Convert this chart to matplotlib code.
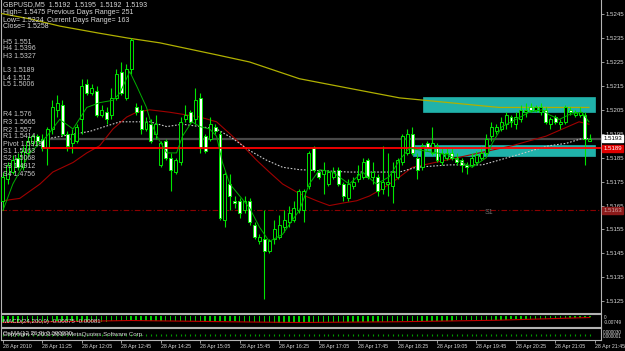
import matplotlib
matplotlib.use("Agg")
import matplotlib.pyplot as plt
from matplotlib.patches import Rectangle
import matplotlib.transforms as mtransforms

W, H = 625, 351

# M5 candles, 28 Apr 2010 (price values)
opens = [1.5167, 1.5176, 1.5179, 1.5185, 1.5181, 1.5187, 1.5191, 1.5194, 1.5193, 1.5189,
         1.5197, 1.5205, 1.5207, 1.5195, 1.5191, 1.5192, 1.5201, 1.5216, 1.5212, 1.5213,
         1.5203, 1.5204, 1.5203, 1.5210, 1.5221, 1.5210, 1.5222, 1.5206, 1.5205, 1.5197,
         1.5199, 1.5195, 1.5182, 1.5192, 1.5185, 1.5179, 1.5183, 1.5201, 1.5204, 1.5201,
         1.5210, 1.5194, 1.5193, 1.5198, 1.5195, 1.5159, 1.5174, 1.5167, 1.5167, 1.5163,
         1.5167, 1.5157, 1.5150, 1.5151, 1.5146, 1.5151, 1.5152, 1.5156, 1.5158, 1.5159,
         1.5163, 1.5163, 1.5173, 1.5189, 1.5179, 1.5178, 1.5174, 1.5177, 1.5180, 1.5174,
         1.5168, 1.5173, 1.5176, 1.5177, 1.5184, 1.5177, 1.5177, 1.5172, 1.5174, 1.5173,
         1.5177, 1.5183, 1.5187, 1.5195, 1.5185, 1.5181, 1.5191, 1.5187, 1.5190, 1.5183,
         1.5185, 1.5187, 1.5185, 1.5184, 1.5182, 1.5182, 1.5183, 1.5185, 1.5187, 1.5194,
         1.5196, 1.5197, 1.5199, 1.5202, 1.5199, 1.5201, 1.5204, 1.5206, 1.5205, 1.5204,
         1.5205, 1.5199, 1.5202, 1.5199, 1.5200, 1.5205, 1.5203, 1.5203, 1.5203, 1.5192]
highs = [1.5179, 1.5183, 1.5186, 1.5187, 1.5190, 1.5194, 1.5195, 1.5195, 1.5195, 1.5198,
         1.5209, 1.5211, 1.5209, 1.5196, 1.5197, 1.5199, 1.5218, 1.5218, 1.5216, 1.5215,
         1.5207, 1.5206, 1.5214, 1.5222, 1.5225, 1.5224, 1.5235, 1.5208, 1.5207, 1.5202,
         1.5201, 1.5203, 1.5192, 1.5193, 1.5187, 1.5185, 1.5202, 1.5207, 1.5205, 1.5214,
         1.5212, 1.5195, 1.5202, 1.5199, 1.5196, 1.5179, 1.5178, 1.5169, 1.5168, 1.5169,
         1.5168, 1.5158, 1.5153, 1.5163, 1.5151, 1.5159, 1.5161, 1.5163, 1.5165, 1.5167,
         1.5172, 1.5172, 1.5188, 1.5190, 1.5180, 1.5183, 1.5180, 1.5181, 1.5181, 1.5175,
         1.5176, 1.5177, 1.5182, 1.5185, 1.5185, 1.5183, 1.5178, 1.5190, 1.5187, 1.5183,
         1.5185, 1.5195, 1.5197, 1.5198, 1.5187, 1.5191, 1.5192, 1.5198, 1.5191, 1.5189,
         1.5189, 1.5189, 1.5187, 1.5185, 1.5183, 1.5187, 1.5188, 1.5190, 1.5195, 1.5200,
         1.5199, 1.5202, 1.5204, 1.5203, 1.5204, 1.5207, 1.5208, 1.5208, 1.5207, 1.5208,
         1.5206, 1.5202, 1.5203, 1.5201, 1.5207, 1.5206, 1.5205, 1.5206, 1.5204, 1.5195]
lows = [1.5163, 1.5174, 1.5178, 1.5180, 1.5180, 1.5186, 1.5190, 1.5190, 1.5188, 1.5182,
        1.5195, 1.5202, 1.5194, 1.5188, 1.5187, 1.5191, 1.5195, 1.5211, 1.5211, 1.5202,
        1.5202, 1.5199, 1.5201, 1.5209, 1.5211, 1.5209, 1.5220, 1.5203, 1.5195, 1.5196,
        1.5191, 1.5193, 1.5181, 1.5184, 1.5171, 1.5178, 1.5182, 1.5200, 1.5199, 1.5199,
        1.5187, 1.5187, 1.5192, 1.5195, 1.5159, 1.5156, 1.5163, 1.5164, 1.5160, 1.5162,
        1.5157, 1.5151, 1.5149, 1.5126, 1.5145, 1.5149, 1.5151, 1.5154, 1.5156, 1.5158,
        1.5162, 1.5158, 1.5172, 1.5179, 1.5176, 1.5170, 1.5173, 1.5176, 1.5173, 1.5167,
        1.5167, 1.5172, 1.5175, 1.5176, 1.5176, 1.5174, 1.5169, 1.5170, 1.5169, 1.5166,
        1.5176, 1.5182, 1.5186, 1.5186, 1.5176, 1.5180, 1.5188, 1.5186, 1.5183, 1.5182,
        1.5184, 1.5184, 1.5182, 1.5179, 1.5178, 1.5181, 1.5182, 1.5184, 1.5186, 1.5192,
        1.5195, 1.5196, 1.5197, 1.5198, 1.5197, 1.5200, 1.5202, 1.5204, 1.5204, 1.5203,
        1.5199, 1.5197, 1.5199, 1.5197, 1.5199, 1.5203, 1.5202, 1.5202, 1.5182, 1.5192]
closes = [1.5177, 1.5182, 1.5184, 1.5181, 1.5188, 1.5192, 1.5194, 1.5192, 1.5189, 1.5197,
          1.5206, 1.5208, 1.5195, 1.5190, 1.5195, 1.5198, 1.5215, 1.5212, 1.5214, 1.5203,
          1.5205, 1.5201, 1.5210, 1.5220, 1.5212, 1.5222, 1.5234, 1.5204, 1.5197, 1.5200,
          1.5192, 1.5199, 1.5191, 1.5185, 1.5180, 1.5184, 1.5200, 1.5203, 1.5200, 1.5209,
          1.5189, 1.5188, 1.5199, 1.5196, 1.5160, 1.5178, 1.5169, 1.5166, 1.5162, 1.5167,
          1.5158, 1.5152, 1.5152, 1.5146, 1.5150, 1.5155, 1.5157, 1.5159, 1.5162, 1.5164,
          1.5171, 1.5171, 1.5187, 1.5180, 1.5177, 1.5180, 1.5179, 1.5179, 1.5174, 1.5169,
          1.5174, 1.5175, 1.5178, 1.5183, 1.5177, 1.5179, 1.5171, 1.5175, 1.5175, 1.5179,
          1.5184, 1.5194, 1.5195, 1.5187, 1.5180, 1.5190, 1.5189, 1.5191, 1.5184, 1.5187,
          1.5187, 1.5185, 1.5183, 1.5182, 1.5181, 1.5185, 1.5186, 1.5187, 1.5193, 1.5198,
          1.5198, 1.5200, 1.5203, 1.5200, 1.5202, 1.5205, 1.5205, 1.5205, 1.5206, 1.5206,
          1.5200, 1.5201, 1.5200, 1.5200, 1.5206, 1.5204, 1.5204, 1.5204, 1.5193, 1.5193]

# moving averages (bar position, price)
ma_fast_x = [0, 2, 5.5, 8.9, 11.5, 14.2, 17, 19.6, 22.3, 23.7, 25.7, 27.1, 29.1, 29.8, 31.2,
             33.2, 35.2, 36.4, 38.3, 39.9, 41.9, 43.3, 44.5, 46, 48, 50, 52, 54, 56.7, 58.7,
             60.1, 62.1, 64.2, 66.8, 70.2, 72.9, 75.7, 78.3, 80.4, 82.4, 85, 87.9, 90.5, 93.1,
             95.1, 98, 99.2, 101.2, 104, 106.7, 109.3, 110.7, 112.8, 114.8, 117.4, 118.8]
ma_fast_y = [1.5163, 1.5174, 1.5187, 1.5194, 1.5201, 1.5197, 1.5206, 1.5208, 1.5209, 1.5212,
             1.5221, 1.5215, 1.5206, 1.5201, 1.5194, 1.5187, 1.5187, 1.5194, 1.5200, 1.5198,
             1.5197, 1.5194, 1.5183, 1.5174, 1.5169, 1.5164, 1.5156, 1.5150, 1.5153, 1.5159,
             1.5163, 1.5174, 1.5180, 1.5179, 1.5174, 1.5179, 1.5174, 1.5177, 1.5184, 1.5189,
             1.5188, 1.5187, 1.5186, 1.5183, 1.5181, 1.5185, 1.5191, 1.5198, 1.5201, 1.5204,
             1.5205, 1.5203, 1.5201, 1.5203, 1.5204, 1.5200]
ma_mid_x = [0, 3.4, 7.5, 10.1, 14.2, 17, 19.6, 22.3, 25.1, 27.1, 29.8, 33.8, 39.9, 43.3, 46,
            48.6, 51.4, 54, 56.7, 60.1, 63.6, 66.2, 68.8, 71.7, 74.3, 76.9, 79.8, 83, 89.9,
            96.6, 103.2, 110.1, 116.8, 118.8]
ma_mid_y = [1.5167, 1.5168, 1.5174, 1.5179, 1.5183, 1.5187, 1.5190, 1.5197, 1.5202, 1.5204,
            1.5205, 1.5204, 1.5202, 1.5200, 1.5195, 1.5190, 1.5184, 1.5179, 1.5174, 1.5170,
            1.5167, 1.5165, 1.5166, 1.5167, 1.5169, 1.5172, 1.5176, 1.5181, 1.5184, 1.5187,
            1.5190, 1.5194, 1.5200, 1.5199]
ma_dot_x = [9.1, 17.6, 23.7, 29.8, 33.2, 36.4, 39.9, 43.3, 46.6, 50, 53.4, 56.7, 60.1, 70.2,
            76.9, 80.4, 83.8, 90.5, 97.2, 100.6, 104, 107.3, 110.7, 114.2, 117.4, 118.8]
ma_dot_y = [1.5193, 1.5196, 1.5200, 1.5200, 1.5198, 1.5199, 1.5198, 1.5197, 1.5193, 1.5188,
            1.5184, 1.5181, 1.5180, 1.5179, 1.5179, 1.5179, 1.5181, 1.5182, 1.5182, 1.5184,
            1.5186, 1.5188, 1.5190, 1.5191, 1.5193, 1.5193]
ma_slow_x = [-1, 5.5, 11.5, 19.6, 25.3, 31.8, 36.4, 43.3, 50, 60.1, 70.2, 80.4, 90.5, 100.6,
             110.7, 118.8]
ma_slow_y = [1.52455, 1.5243, 1.5240, 1.5237, 1.5235, 1.5233, 1.5231, 1.5228, 1.5225, 1.5218,
             1.5214, 1.5210, 1.5208, 1.5206, 1.5206, 1.5206]

# horizontal levels
bid = 1.5193
l3_level = 1.5189
s1_level = 1.5163

# zones: (start bar, end bar, low, high)
zones = [(85.2, 120.1, 1.52041, 1.52104), (83.2, 120.1, 1.51857, 1.51903)]

# MACD(24,200,9) main histogram and signal, in units of 0.0001
macd = [-28, -28, -28, -28, -28, -28, -28, -28, -28, -27,
        -27, -27, -27, -27, -27, -26, -26, -26, -25, -25,
        -24, -24, -23, -22, -21, -20, -20, -20, -20, -20,
        -20, -20, -20, -20, -20, -20, -20, -20, -20, -20,
        -20, -20, -21, -21, -22, -22, -23, -23, -24, -24,
        -25, -26, -26, -27, -27, -28, -28, -28, -28, -28,
        -28, -28, -28, -28, -27, -27, -27, -27, -26, -26,
        -26, -26, -26, -25, -25, -25, -25, -24, -24, -24,
        -24, -23, -23, -22, -22, -22, -21, -21, -21, -20,
        -20, -20, -19, -19, -19, -18, -18, -18, -17, -17,
        -17, -16, -16, -15, -15, -14, -14, -13, -13, -12,
        -12, -11, -11, -10, -10, -9, -9, -8, -8, -7.5]
signal_x = [0, 26, 50, 60, 80, 100, 119]
signal_y = [-28, -20, -26, -28, -25, -19, -8.1]

price_ticks = [1.5245, 1.5235, 1.5225, 1.5215, 1.5205, 1.5195, 1.5185, 1.5175, 1.5165,
               1.5155, 1.5145, 1.5135, 1.5125]
time_labels = ["28 Apr 2010", "28 Apr 11:25", "28 Apr 12:05", "28 Apr 12:45", "28 Apr 14:25",
               "28 Apr 15:05", "28 Apr 15:45", "28 Apr 16:25", "28 Apr 17:05", "28 Apr 17:45",
               "28 Apr 18:25", "28 Apr 19:05", "28 Apr 19:45", "28 Apr 20:25", "28 Apr 21:05",
               "28 Apr 21:45"]

pivot_labels = [("H5 1.551", 42), ("H4 1.5396", 49), ("H3 1.5327", 56),
                ("L3 1.5189", 71), ("L4 1.512", 78), ("L5 1.5006", 85),
                ("R4 1.576", 115), ("R3 1.5665", 122), ("R2 1.557", 130),
                ("R1 1.5414", 137), ("Pivot 1.5319", 144), ("S1 1.5163", 152),
                ("S2 1.5068", 159), ("S3 1.4912", 167), ("S4 1.4756", 174)]

BG = "#000000"
CANDLE = "#00E600"
FRAME = "#B4B4B4"
TXT = "#D8D8D8"
FONT = "Liberation Sans"
FS = 5.0
FS_AX = 4.4
FS_SMALL = 3.8
FS_TINY = 3.3

fig = plt.figure(figsize=(W / 100, H / 100), dpi=100, facecolor=BG)


def px_axes(top, bottom, left=1, right=601):
    return fig.add_axes([left / W, 1 - bottom / H, (right - left) / W, (bottom - top) / H],
                        facecolor=BG)


def frame(a):
    for sp in a.spines.values():
        sp.set_color(FRAME)
        sp.set_linewidth(0.8)


ax = px_axes(0, 313)
ax_macd = px_axes(314, 327)
ax_osma = px_axes(328, 340)

xmin, xmax = -0.4, 121.25
y_top, y_bot = 1.52509, 1.51201

# candles
n = len(closes)
for i in range(n):
    o, h, l, c = opens[i], highs[i], lows[i], closes[i]
    ax.vlines(i, l, h, color=CANDLE, lw=0.8, zorder=4)
    lo_b, hi_b = min(o, c), max(o, c)
    face = BG if c >= o else "white"
    ax.add_patch(Rectangle((i - 0.3, lo_b), 0.6, max(hi_b - lo_b, 0.00003),
                           facecolor=face, edgecolor=CANDLE, lw=0.7, zorder=5))

# zones
for x0, x1, lo, hi in zones:
    ax.add_patch(Rectangle((x0, lo), x1 - x0, hi - lo, facecolor="#20B2AA",
                           edgecolor="#20B2AA", lw=0.5, zorder=2))

# levels
ax.hlines(bid, 9, xmax, color="#484848", lw=1.6, zorder=1)
ax.hlines(l3_level, 8, xmax, color="#FF0000", lw=1.3, zorder=6)
ax.hlines(s1_level, xmin, xmax, color="#8B0000", lw=0.8, linestyles=(0, (5, 2, 1, 2)), zorder=1)
ax.text(98.5, s1_level - 0.00009, "S1", color="#707070", fontsize=FS, family=FONT,
        va="center", ha="center")

# moving averages
ax.plot(ma_slow_x, ma_slow_y, color="#B0B000", lw=0.9, zorder=3)
ax.plot(ma_mid_x, ma_mid_y, color="#A00000", lw=0.8, zorder=3)
ax.plot(ma_dot_x, ma_dot_y, color="#C8C8C8", lw=0.8, ls=(0, (1.5, 1.5)), zorder=3)
ax.plot(ma_fast_x, ma_fast_y, color="#00B000", lw=0.7, zorder=6)

ax.set_xlim(xmin, xmax)
ax.set_ylim(y_bot, y_top)
ax.yaxis.tick_right()
ax.set_yticks(price_ticks)
ax.set_yticklabels([f"{p:.4f}" for p in price_ticks])
ax.tick_params(axis="y", colors=FRAME, labelcolor=TXT, labelsize=FS_AX, length=2, width=0.6,
               pad=1.5, direction="out")
for lab in ax.get_yticklabels():
    lab.set_family(FONT)
ax.set_xticks([])
frame(ax)
ax.spines["top"].set_visible(False)

# price boxes on the right scale
blend = mtransforms.blended_transform_factory(ax.transAxes, ax.transData)
for val, fc, tc in [(bid, "white", "black"), (l3_level, "#E00000", "white"),
                    (s1_level, "#8B1A1A", "#D0A0A0")]:
    ax.text(1.004, val, f"{val:.4f}", transform=blend, fontsize=FS_AX, family=FONT, color=tc,
            va="center", ha="left", zorder=10, clip_on=False,
            bbox=dict(boxstyle="square,pad=0.15", fc=fc, ec=fc))


# header / pivot text
def ptext(x, y, s, color=TXT, size=FS):
    fig.text(x / W, 1 - y / H, s, color=color, fontsize=size, family=FONT,
             va="center", ha="left")


ptext(3, 5, "GBPUSD,M5  1.5192  1.5195  1.5192  1.5193")
ptext(3, 12, "High= 1.5475")
ptext(47, 12, "Previous Days Range= 251")
ptext(3, 20, "Low= 1.5224")
ptext(47, 20, "Current Days Range= 163")
ptext(3, 27, "Close= 1.5258")
for s, y in pivot_labels:
    ptext(3, y, s, color="#C8C8C8")

# MACD panel
ax_macd.bar(range(n), [v / 10000 for v in macd], width=0.3, color="#00D000", zorder=2)
ax_macd.plot(signal_x, [v / 10000 for v in signal_y], color="#C00000", lw=0.8, zorder=3)
ax_macd.set_xlim(xmin, xmax)
ax_macd.set_ylim(-0.0046, 0.0006)
ax_macd.set_xticks([])
ax_macd.set_yticks([])
frame(ax_macd)
ax_macd.text(0.004, 0.45, "MACD(24,200,9) -0.00075 -0.00081", transform=ax_macd.transAxes,
             color=TXT, fontsize=FS_AX, family=FONT, va="center", ha="left", zorder=5)
ax_macd.text(1.005, 0.72, "0", transform=ax_macd.transAxes, color=TXT,
             fontsize=FS_TINY, family=FONT, va="center", ha="left", clip_on=False)
ax_macd.text(1.005, 0.35, "-0.00749", transform=ax_macd.transAxes, color=TXT,
             fontsize=FS_TINY, family=FONT, va="center", ha="left", clip_on=False)

# OsMA panel
ax_osma.set_xlim(xmin, xmax)
ax_osma.set_ylim(-1, 1)
ax_osma.vlines(range(n), -0.25, 0.05, color="#00A000", lw=0.8)
ax_osma.set_yticks([])
frame(ax_osma)
for s in ["OsMA(12,26,9) 0.000030", "Copyright \u00a9 2001-2010 MetaQuotes Software Corp."]:
    ax_osma.text(0.004, 0.5, s, transform=ax_osma.transAxes, color=TXT, fontsize=FS_AX,
                 family=FONT, va="center", ha="left", zorder=5)
ax_osma.text(1.003, 0.62, "0.000030", transform=ax_osma.transAxes, color=TXT,
             fontsize=FS_TINY, family=FONT, va="center", ha="left", clip_on=False)
ax_osma.text(1.003, 0.3, "0.000001", transform=ax_osma.transAxes, color=TXT,
             fontsize=FS_TINY, family=FONT, va="center", ha="left", clip_on=False)
ax_osma.set_xticks([i * 8 for i in range(len(time_labels))])
ax_osma.set_xticklabels(time_labels)
ax_osma.tick_params(axis="x", colors=FRAME, labelcolor=TXT, labelsize=FS_SMALL, length=2,
                    width=0.6, pad=1)
for lab in ax_osma.get_xticklabels():
    lab.set_horizontalalignment("left")
    lab.set_family(FONT)

fig.savefig("out.png", dpi=100, facecolor=BG)
